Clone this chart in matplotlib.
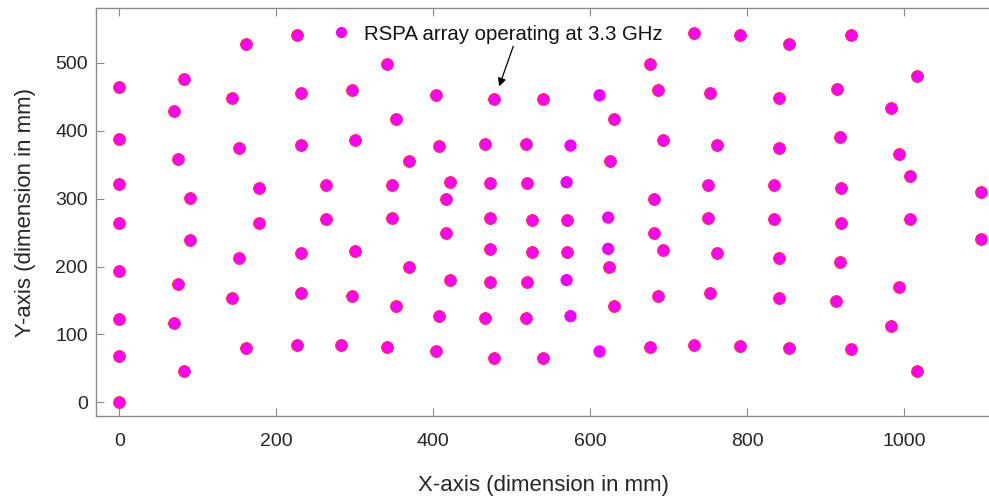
import matplotlib
matplotlib.use("Agg")
import matplotlib.pyplot as plt
from matplotlib.lines import Line2D

plt.rcParams['font.family'] = ['Liberation Sans', 'DejaVu Sans']

# Element positions (mm) drawn with a red outline
x_edge = [0, 0, 0, 0, 0, 0, 0, 0,
          70, 75, 83, 90, 90, 75, 70, 83,
          143, 153, 178, 178, 153, 143, 162, 162,
          226, 231, 232, 264, 264, 232, 231, 226,
          297, 300, 347, 347, 300, 297, 283,
          341, 353, 369, 369, 353, 341,
          404, 408, 416, 422, 416, 422, 408, 404,
          466, 472, 473, 473, 472, 466, 477, 477,
          518, 520, 526, 526, 520, 518, 540, 540,
          571, 571, 625, 624, 631, 631,
          676, 686, 693, 682, 682, 693, 686, 676,
          732, 732, 750, 750, 753, 762, 762, 753,
          791, 791, 834, 834, 841, 841, 841, 841,
          854, 854, 914, 919, 920, 920, 919, 913,
          933, 933, 983, 994, 1007, 1007, 994, 983,
          1017, 1017, 1098, 1098]
y_edge = [464, 388, 321, 264, 194, 123, 68, 0,
          429, 358, 476, 301, 239, 174, 117, 46,
          448, 375, 316, 264, 212, 153, 80, 528,
          540, 456, 379, 320, 270, 220, 161, 84,
          460, 386, 320, 272, 223, 157, 84,
          498, 417, 356, 199, 142, 81,
          452, 378, 299, 324, 249, 180, 127, 75,
          381, 323, 272, 226, 177, 124, 446, 66,
          381, 323, 269, 222, 177, 124, 446, 66,
          269, 222, 356, 199, 417, 142,
          498, 460, 386, 299, 249, 224, 157, 81,
          544, 84, 320, 271, 456, 379, 220, 161,
          540, 83, 320, 270, 448, 375, 212, 153,
          528, 80, 461, 391, 316, 264, 207, 149,
          540, 78, 433, 366, 333, 270, 170, 113,
          480, 46, 309, 240]

# Element positions (mm) drawn without outline
x_plain = [612, 575, 570, 623, 623, 570, 575, 612]
y_plain = [452, 378, 324, 272, 226, 180, 127, 75]

legend_label = "RSPA array operating at 3.3 GHz"
x_ticks = [0, 200, 400, 600, 800, 1000]
y_ticks = [0, 100, 200, 300, 400, 500]

magenta = '#ff00ff'
magenta_plain = '#f200ff'

fig = plt.figure(figsize=(9.89, 4.99), dpi=100)
ax = fig.add_axes([0.0968, 0.1663, 0.9046, 0.8171])

ax.scatter(x_edge, y_edge, s=72, facecolor=magenta, edgecolor='#ff2a2a',
           linewidths=0.7, zorder=3)
ax.scatter(x_plain, y_plain, s=78, facecolor=magenta_plain, edgecolor='none',
           zorder=3)

ax.set_xlim(-30, 1110)
ax.set_ylim(-20, 580)
ax.set_xticks(x_ticks)
ax.set_yticks(y_ticks)

spine_color = '#8a8a8a'
for side in ['left', 'bottom', 'top']:
    ax.spines[side].set_color(spine_color)
    ax.spines[side].set_linewidth(1.0)
ax.spines['right'].set_visible(False)

ax.tick_params(axis='both', direction='in', length=6, width=0.8,
               color=spine_color, labelsize=14, labelcolor='#262626',
               top=True)
ax.tick_params(axis='y', pad=5.5)
ax.tick_params(axis='x', pad=12)

ax.set_xlabel("X-axis (dimension in mm)", fontsize=16, color='#262626',
              labelpad=18.5)
ax.set_ylabel("Y-axis (dimension in mm)", fontsize=16, color='#262626',
              labelpad=14)

handle = Line2D([], [], linestyle='none', marker='o', markersize=8,
                markerfacecolor=magenta_plain, markeredgecolor='none')
ax.legend([handle], [legend_label], loc='center left',
          bbox_to_anchor=(330.5 / 989, 1 - 34 / 499),
          bbox_transform=fig.transFigure, frameon=False, fontsize=14.7,
          handlelength=1.0, handletextpad=0.65, borderpad=0,
          borderaxespad=0, labelcolor='#111111')

# Arrow pointing from the legend text down to the array
ax.annotate("", xy=(484, 465), xytext=(502, 524),
            arrowprops=dict(arrowstyle='-|>', color='black', lw=0.9,
                            mutation_scale=12, shrinkA=0, shrinkB=0))

fig.savefig("out.png", dpi=100)
